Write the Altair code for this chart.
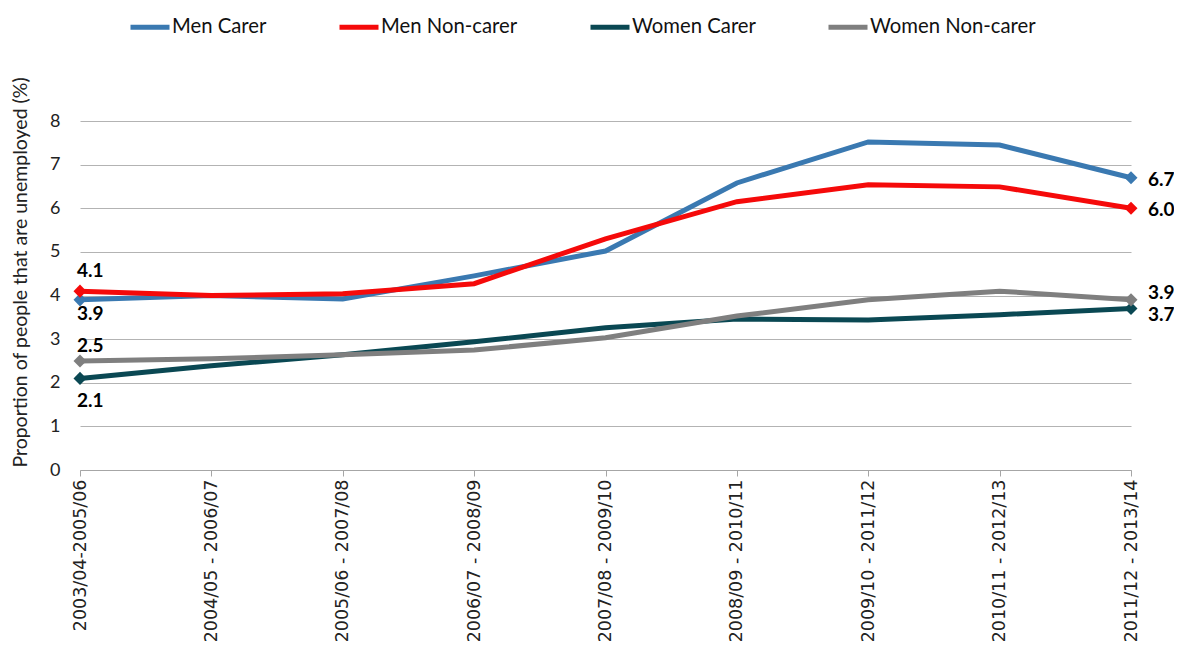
import altair as alt
import pandas as pd

periods = ["2003/04-2005/06", "2004/05 - 2006/07", "2005/06 - 2007/08", "2006/07 - 2008/09",
           "2007/08 - 2009/10", "2008/09 - 2010/11", "2009/10 - 2011/12", "2010/11 -  2012/13",
           "2011/12 - 2013/14"]
series_names = ["Men Carer", "Men Non-carer", "Women Carer", "Women Non-carer"]
men_carer = [3.9, 4.0, 3.92, 4.45, 5.02, 6.58, 7.52, 7.45, 6.7]
men_noncarer = [4.1, 4.0, 4.04, 4.27, 5.3, 6.15, 6.54, 6.49, 6.0]
women_carer = [2.1, 2.39, 2.64, 2.94, 3.26, 3.46, 3.44, 3.56, 3.7]
women_noncarer = [2.5, 2.55, 2.64, 2.75, 3.03, 3.53, 3.9, 4.1, 3.9]
y_ticks = [0, 1, 2, 3, 4, 5, 6, 7, 8]
colors = ["#3A79B1", "#F50A0A", "#0A4853", "#7F7F7F"]

rows = []
for name, vals in zip(series_names, [men_carer, men_noncarer, women_carer, women_noncarer]):
    for i, (p, v) in enumerate(zip(periods, vals)):
        rows.append({"period": p, "series": name, "value": v, "idx": i,
                     "label": f"{v:.1f}"})
df = pd.DataFrame(rows)

base = alt.Chart(df)
x = alt.X("period:N", sort=periods, scale=alt.Scale(type="point", padding=0),
          axis=alt.Axis(title=None, labelAngle=-90, labelAlign="right", labelBaseline="middle",
                        labelFont="DejaVu Sans", labelFontSize=17.5, labelColor="#222222",
                        labelPadding=3, labelLimit=0, labelOverlap=False,
                        ticks=True, tickSize=6, tickColor="#A6A6A6",
                        domainColor="#A6A6A6", grid=False))
y = alt.Y("value:Q", scale=alt.Scale(domain=[0, 8], nice=False),
          axis=alt.Axis(title="Proportion of people that are unemployed (%)",
                        titleFont="Lato", titleFontSize=19.5, titleFontWeight="normal",
                        titleColor="#222222", titleX=-60, titleY=151, titleBaseline="middle",
                        titleAlign="center", titleAngle=-90,
                        labelFont="Lato", labelFontSize=18, labelColor="#222222",
                        labelPadding=20, labelOverlap=False, ticks=False, domain=False,
                        values=y_ticks,
                        grid=True, gridColor="#B3B3B3", gridWidth=1))
color = alt.Color("series:N", sort=series_names,
                  scale=alt.Scale(domain=series_names, range=colors),
                  legend=alt.Legend(title=None, orient="none", direction="horizontal",
                                    legendX=48, legendY=-116, labelLimit=0,
                                    symbolType="stroke", symbolStrokeWidth=5, symbolSize=1521,
                                    labelFont="Lato", labelFontSize=20.3, labelColor="#111111",
                                    labelOffset=0, columnPadding=62, symbolOffset=0))

lines = base.mark_line(strokeWidth=5).encode(x=x, y=y, color=color)
ends = base.mark_point(shape="diamond", filled=True, size=170, opacity=1).encode(
    x=x, y=y, color=alt.Color("series:N", scale=alt.Scale(domain=series_names, range=colors), legend=None)
).transform_filter("datum.idx == 0 || datum.idx == 8")

def lab(filt, dx, dy, align="left"):
    return base.mark_text(font="Lato", fontSize=19, fontWeight="bold", color="#000000",
                          align=align, baseline="middle", dx=dx, dy=dy).encode(
        x=alt.X("period:N", sort=periods, scale=alt.Scale(type="point", padding=0)),
        y=alt.Y("value:Q", scale=alt.Scale(domain=[0, 8], nice=False)),
        text="label:N").transform_filter(filt)

labels = [
    lab("datum.idx == 0 && datum.series == 'Men Non-carer'", -3, -20),
    lab("datum.idx == 0 && datum.series == 'Men Carer'", -3, 14),
    lab("datum.idx == 0 && datum.series == 'Women Non-carer'", -3, -15),
    lab("datum.idx == 0 && datum.series == 'Women Carer'", -3, 23),
    lab("datum.idx == 8 && (datum.series == 'Men Carer' || datum.series == 'Men Non-carer')", 17, 2),
    lab("datum.idx == 8 && datum.series == 'Women Non-carer'", 17, -7),
    lab("datum.idx == 8 && datum.series == 'Women Carer'", 17, 6),
]

chart = alt.layer(lines, ends, *labels).properties(
    width=1051, height=349, background="white",
    autosize=alt.AutoSizeParams(type="none"),
    padding={"left": 72, "top": 113, "right": 43, "bottom": 177},
).configure_view(stroke=None)

chart.save("out.html", embed_options={"renderer": "svg", "actions": False})
